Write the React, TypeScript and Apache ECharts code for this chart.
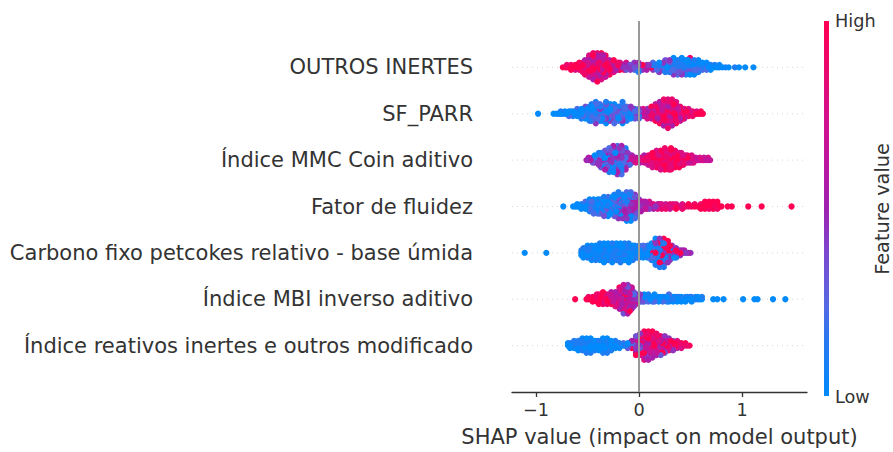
import React, { useEffect, useRef } from "react";
import * as echarts from "echarts";

// Features, top to bottom
const FEATURES = [
  "OUTROS INERTES",
  "SF_PARR",
  "Índice MMC Coin aditivo",
  "Fator de fluidez",
  "Carbono fixo petcokes relativo - base úmida",
  "Índice MBI inverso aditivo",
  "Índice reativos inertes e outros modificado",
];

const X_TICKS = [-1, 0, 1];
const X_MIN = -1.233;
const X_MAX = 1.63;

// Each entry: [SHAP value of the bin, feature values of the dots in it (0 = low ... 9 = high)]
const outrosInertes: [number, string][] = [
  [-0.74, "9"], [-0.715, "9"], [-0.7, "98"], [-0.675, "9"], [-0.66, "989"], [-0.64, "9"], [-0.62, "897"],
  [-0.6, "99"], [-0.58, "9789"], [-0.56, "97"], [-0.545, "89768"], [-0.525, "9786958"], [-0.505, "86979"],
  [-0.485, "9786958967"], [-0.465, "8697958"], [-0.445, "869795867958"], [-0.425, "597869587"],
  [-0.405, "8697598695789"], [-0.385, "97586958"], [-0.365, "896795869579"], [-0.345, "9586978695"],
  [-0.325, "6958795869"], [-0.305, "59687"], [-0.285, "8596759"], [-0.265, "5968"], [-0.245, "958679"],
  [-0.225, "695"], [-0.205, "5958"], [-0.185, "4596"], [-0.165, "59"], [-0.145, "458"], [-0.125, "5437"],
  [-0.105, "45"], [-0.085, "534"], [-0.065, "45"], [-0.045, "3524"], [-0.025, "45"], [-0.005, "34251"],
  [0.015, "53"], [0.035, "294"], [0.055, "4"], [0.075, "345"], [0.095, "24"], [0.115, "9"], [0.135, "3142"],
  [0.155, "41"], [0.175, "132"], [0.195, "21304"], [0.215, "10"], [0.235, "0124"], [0.255, "102413"],
  [0.275, "01"], [0.295, "102314"], [0.315, "0120"], [0.335, "10203140"], [0.355, "0121"],
  [0.375, "2010312"], [0.395, "10203"], [0.415, "01203140"], [0.435, "10"], [0.455, "0120301"],
  [0.475, "102130"], [0.495, "01203108"], [0.515, "102"], [0.535, "0120310"], [0.555, "10201"],
  [0.575, "012010"], [0.595, "10"], [0.615, "0120"], [0.635, "01"], [0.655, "1020"], [0.675, "0"],
  [0.695, "010"], [0.715, "1"], [0.735, "01"], [0.76, "0"], [0.78, "10"], [0.81, "0"], [0.84, "1"],
  [0.87, "0"], [0.93, "1"], [0.97, "0"], [1.03, "0"], [1.11, "0"],
];

const sfParr: [number, string][] = [
  [-0.98, "0"], [-0.83, "0"], [-0.8, "0"], [-0.78, "1"], [-0.76, "01"], [-0.74, "0"], [-0.72, "10"],
  [-0.7, "0"], [-0.68, "102"], [-0.66, "01"], [-0.64, "201"], [-0.62, "0"], [-0.6, "0102"], [-0.58, "10"],
  [-0.56, "01201"], [-0.54, "102"], [-0.52, "020103"], [-0.5, "1020"], [-0.48, "0130201"],
  [-0.46, "20103021"], [-0.44, "0120"], [-0.42, "1020310241"], [-0.4, "013020"], [-0.38, "20140102"],
  [-0.36, "1023012"], [-0.34, "0120310"], [-0.32, "2010420301"], [-0.3, "10320"], [-0.28, "01203140"],
  [-0.26, "203102"], [-0.24, "130201302"], [-0.22, "0312"], [-0.2, "2314012"], [-0.18, "10203"],
  [-0.16, "0120314201"], [-0.14, "3102"], [-0.12, "2013021"], [-0.1, "1320"], [-0.08, "031204"],
  [-0.06, "2314"], [-0.04, "32413"], [-0.02, "43"], [0.0, "43152"], [0.02, "54"], [0.04, "4657"],
  [0.06, "546"], [0.08, "65847"], [0.1, "769"], [0.12, "857969"], [0.14, "968"], [0.16, "78695896"],
  [0.18, "96785"], [0.2, "8697958695"], [0.22, "978695"], [0.24, "869795869758"], [0.26, "59786987"],
  [0.28, "9869759869578"], [0.3, "7968597968"], [0.32, "896795869758"], [0.34, "97869589"],
  [0.36, "8697958697"], [0.38, "978695"], [0.4, "8979586"], [0.42, "97869"], [0.44, "89796"],
  [0.46, "798"], [0.48, "9897"], [0.5, "97"], [0.52, "898"], [0.54, "9"], [0.56, "97"], [0.58, "9"],
  [0.6, "89"], [0.62, "9"],
];

const mmcCoin: [number, string][] = [
  [-0.51, "5"], [-0.49, "45"], [-0.47, "5"], [-0.45, "543"], [-0.43, "4250"], [-0.41, "52"],
  [-0.39, "524041"], [-0.37, "4052413"], [-0.35, "5041"], [-0.33, "405124035"], [-0.31, "5140253"],
  [-0.29, "40521403521"], [-0.27, "51402403"], [-0.25, "041524031405"], [-0.23, "405140251"],
  [-0.21, "0415203140524"], [-0.19, "4025140314"], [-0.17, "1405240314052"], [-0.15, "40251403"],
  [-0.13, "5240314051"], [-0.11, "452534"], [-0.09, "53642"], [-0.07, "5645"], [-0.05, "45"],
  [-0.03, "657"], [-0.01, "5"], [0.01, "675"], [0.03, "76"], [0.05, "8675"], [0.07, "786"],
  [0.09, "89786"], [0.11, "9879"], [0.13, "8979897"], [0.15, "978"], [0.17, "97898697"], [0.19, "89978"],
  [0.21, "978989897"], [0.23, "897898"], [0.25, "8978989798"], [0.27, "98997"], [0.29, "989798978"],
  [0.31, "8979897989"], [0.33, "9897"], [0.35, "89789798"], [0.37, "97898"], [0.39, "8978979"],
  [0.41, "978987"], [0.43, "87978"], [0.45, "7897"], [0.47, "8978"], [0.49, "786"], [0.51, "8797"],
  [0.53, "687"], [0.55, "76"], [0.57, "6"], [0.59, "67"], [0.61, "7"], [0.63, "76"], [0.65, "6"],
  [0.67, "67"], [0.69, "6"],
];

const fatorFluidez: [number, string][] = [
  [-0.735, "0"], [-0.64, "0"], [-0.62, "0"], [-0.6, "00"], [-0.58, "0"], [-0.56, "010"], [-0.54, "1"],
  [-0.52, "0102"], [-0.5, "010"], [-0.48, "102010"], [-0.46, "0102"], [-0.44, "2010102"], [-0.42, "01020"],
  [-0.4, "1020102"], [-0.38, "0102013"], [-0.36, "20101"], [-0.34, "102010213"], [-0.32, "01023"],
  [-0.3, "201031020"], [-0.28, "1020130"], [-0.26, "02103120"], [-0.24, "1023021031"], [-0.22, "2013041"],
  [-0.2, "310241032041"], [-0.18, "1403250"], [-0.16, "41305240314"], [-0.14, "31405240"],
  [-0.12, "4251340351420"], [-0.1, "4351425341"], [-0.08, "3452435401320"], [-0.06, "435425314"],
  [-0.04, "53445613042"], [-0.02, "4535463"], [0.0, "543564"], [0.02, "45465"], [0.04, "3645"],
  [0.06, "5465"], [0.08, "456"], [0.1, "6547"], [0.12, "56"], [0.14, "675"], [0.16, "4"], [0.18, "767"],
  [0.2, "56"], [0.22, "678"], [0.24, "5"], [0.26, "768"], [0.28, "6"], [0.3, "786"], [0.33, "87"],
  [0.36, "879"], [0.39, "7"], [0.42, "978"], [0.45, "8"], [0.48, "89"], [0.51, "8"], [0.54, "98"],
  [0.57, "9"], [0.6, "989"], [0.62, "9"], [0.64, "9899"], [0.66, "99"], [0.68, "9989"], [0.7, "9"],
  [0.72, "9899"], [0.74, "98"], [0.76, "9989"], [0.78, "9"], [0.8, "9"], [0.86, "9"], [0.9, "9"],
  [1.06, "9"], [1.19, "9"], [1.48, "9"],
];

const carbonoFixo: [number, string][] = [
  [-1.11, "0"], [-0.9, "0"], [-0.56, "010"], [-0.54, "01010"], [-0.52, "100"], [-0.5, "010010"],
  [-0.48, "10010"], [-0.46, "0100100"], [-0.44, "00100"], [-0.42, "1001001"], [-0.4, "01001"],
  [-0.38, "00101001"], [-0.36, "100100"], [-0.34, "010010100"], [-0.32, "00100"], [-0.3, "10010010"],
  [-0.28, "0101001"], [-0.26, "001010010"], [-0.24, "100100"], [-0.22, "01001010"], [-0.2, "0010100"],
  [-0.18, "100100101"], [-0.16, "010010"], [-0.14, "00101001"], [-0.12, "1001010"], [-0.1, "010010010"],
  [-0.08, "10010"], [-0.06, "0100101"], [-0.04, "100101"], [-0.02, "01001"], [0.0, "001010"],
  [0.02, "1002"], [0.04, "010102"], [0.06, "2010"], [0.08, "010201"], [0.1, "09102"], [0.12, "19029010"],
  [0.14, "091920"], [0.16, "910290140910"], [0.18, "09194019"], [0.2, "9104920193041"],
  [0.22, "019402910"], [0.24, "4910290145491"], [0.26, "0914051"], [0.28, "4910594049"],
  [0.3, "1940594"], [0.32, "049504"], [0.34, "95440"], [0.36, "49541"], [0.38, "545"], [0.4, "954"],
  [0.42, "54"], [0.44, "45"], [0.46, "4"], [0.48, "5"], [0.5, "4"],
];

const mbiInverso: [number, string][] = [
  [-0.62, "9"], [-0.51, "9"], [-0.49, "98"], [-0.47, "9"], [-0.45, "989"], [-0.43, "89"], [-0.41, "9898"],
  [-0.39, "98989"], [-0.37, "897"], [-0.35, "989789"], [-0.33, "8979"], [-0.31, "98978"], [-0.29, "789"],
  [-0.27, "869795"], [-0.25, "5968"], [-0.23, "6596857"], [-0.21, "56958"], [-0.19, "6595864759"],
  [-0.17, "4659586"], [-0.15, "5694658475963"], [-0.13, "6459658475"], [-0.11, "5469584753645"],
  [-0.09, "45364853469"], [-0.07, "6542635456"], [-0.05, "3542634"], [-0.03, "53246"], [-0.01, "4231"],
  [0.01, "2314"], [0.03, "213"], [0.05, "1020"], [0.07, "01"], [0.09, "1021"], [0.11, "01"], [0.13, "101"],
  [0.15, "0120"], [0.17, "1"], [0.19, "010"], [0.21, "10"], [0.23, "102"], [0.25, "01"], [0.27, "201"],
  [0.29, "0102"], [0.31, "1"], [0.33, "100"], [0.35, "01"], [0.37, "010"], [0.39, "10"], [0.41, "100"],
  [0.43, "0"], [0.45, "010"], [0.47, "10"], [0.49, "01"], [0.51, "010"], [0.53, "1"], [0.55, "01"],
  [0.57, "10"], [0.59, "0"], [0.61, "01"], [0.72, "0"], [0.76, "0"], [0.82, "0"], [1.01, "0"],
  [1.12, "0"], [1.15, "0"], [1.3, "0"], [1.42, "0"],
];

const reativosInertes: [number, string][] = [
  [-0.69, "00"], [-0.67, "010"], [-0.65, "1"], [-0.63, "0101"], [-0.61, "100"], [-0.59, "01010"],
  [-0.57, "1001"], [-0.55, "010010"], [-0.53, "1001"], [-0.51, "0101001"], [-0.49, "10010"],
  [-0.47, "0100101"], [-0.45, "1001"], [-0.43, "01001"], [-0.41, "0010"], [-0.39, "10010"], [-0.37, "010"],
  [-0.35, "0101001"], [-0.33, "10010"], [-0.31, "0100101"], [-0.29, "1001"], [-0.27, "01001"],
  [-0.25, "10"], [-0.23, "0101"], [-0.21, "01"], [-0.19, "010"], [-0.17, "1"], [-0.15, "02"], [-0.13, "1"],
  [-0.11, "203"], [-0.09, "31"], [-0.07, "4295"], [-0.05, "5394"], [-0.03, "394826539"], [-0.01, "49382"],
  [0.01, "4938265974"], [0.03, "8394759"], [0.05, "9583749682597"], [0.07, "59682739485"],
  [0.09, "8495796837495"], [0.11, "95847968"], [0.13, "485967394859"], [0.15, "97385968"],
  [0.17, "5948736958"], [0.19, "8597369"], [0.21, "968574983"], [0.23, "7958689"], [0.25, "86975834"],
  [0.27, "97869"], [0.29, "687984"], [0.31, "7989"], [0.33, "89734"], [0.35, "798"], [0.37, "8947"],
  [0.39, "98"], [0.41, "897"], [0.43, "9"], [0.45, "89"], [0.47, "8"], [0.49, "9"],
];

const ROWS = [outrosInertes, sfParr, mmcCoin, fatorFluidez, carbonoFixo, mbiInverso, reativosInertes];

const CMAP: [number, string][] = [
  [0, "#008afb"], [0.15, "#2a78f0"], [0.25, "#5868e2"], [0.38, "#7b48d0"],
  [0.5, "#9e22b0"], [0.62, "#bc16a0"], [0.75, "#d6108a"], [1, "#ff0052"],
];

function hexToRgb(h: string) {
  return [parseInt(h.slice(1, 3), 16), parseInt(h.slice(3, 5), 16), parseInt(h.slice(5, 7), 16)];
}
function cmap(t: number) {
  for (let i = 1; i < CMAP.length; i++) {
    if (t <= CMAP[i][0]) {
      const [t0, c0] = CMAP[i - 1];
      const [t1, c1] = CMAP[i];
      const f = (t - t0) / (t1 - t0);
      const a = hexToRgb(c0), b = hexToRgb(c1);
      const r = a.map((v, k) => Math.round(v + (b[k] - v) * f));
      return `rgb(${r[0]},${r[1]},${r[2]})`;
    }
  }
  return CMAP[CMAP.length - 1][1];
}

// SHAP-style beeswarm stacking inside each bin
function buildPoints() {
  const all: number[][] = [];
  const n = ROWS.length;
  ROWS.forEach((bins, i) => {
    const pos = n - 1 - i;
    const pts: { x: number; ly: number; c: number }[] = [];
    bins.forEach(([x, s]) => {
      for (let k = 0; k < s.length; k++) {
        const ly = Math.ceil(k / 2) * ((k % 2) * 2 - 1);
        pts.push({ x, ly, c: Number(s[k]) / 9 });
      }
    });
    const m = Math.max(...pts.map((p) => p.ly));
    const scale = (0.9 * 0.4) / (m + 1);
    pts.forEach((p) => all.push([p.x, pos + p.ly * scale, p.c]));
  });
  const N = all.length;
  const order = all.map((_, i) => i).sort((a, b) => ((a * 7919) % N) - ((b * 7919) % N));
  return order.map((i) => all[i]);
}

export default function App() {
  const ref = useRef<HTMLDivElement>(null);
  useEffect(() => {
    document.body.style.margin = "0";
    const chart = echarts.init(ref.current!, undefined, { renderer: "svg" });
    const n = FEATURES.length;
    const font = "DejaVu Sans";
    const points = buildPoints();
    const fmt = (v: number) => (v < 0 ? "\u2212" + Math.abs(v) : String(v));
    const gridLines = FEATURES.map((_, i) => ({
      type: "line",
      z: 1,
      silent: true,
      showSymbol: false,
      symbol: "none",
      lineStyle: { color: "#cccccc", width: 0.8, type: [1, 4] },
      data: [[X_MIN, i], [X_MAX, i]],
    }));
    chart.setOption({
      animation: false,
      textStyle: { fontFamily: font },
      grid: { left: 512, right: 86, top: 21, bottom: 56, containLabel: false },
      xAxis: {
        type: "value",
        min: X_MIN,
        max: X_MAX,
        name: "SHAP value (impact on model output)",
        nameLocation: "middle",
        nameGap: 34,
        nameTextStyle: { fontSize: 21, color: "#333333", fontFamily: font },
        axisLine: { show: true, onZero: false, lineStyle: { color: "#333333", width: 1.3 } },
        axisTick: { show: true, customValues: X_TICKS, length: 5, lineStyle: { color: "#333333", width: 1.3 } },
        axisLabel: { customValues: X_TICKS, formatter: fmt, fontSize: 17.7, color: "#333333", margin: 9, fontFamily: font },
        splitLine: { show: false },
      },
      yAxis: {
        type: "value",
        min: -1,
        max: n,
        interval: 1,
        axisLine: { show: false, onZero: false },
        axisTick: { show: false },
        splitLine: { show: false },
        axisLabel: {
          margin: 39,
          fontSize: 21,
          color: "#333333",
          fontFamily: font,
          formatter: (v: number) => (v >= 0 && v < n ? FEATURES[n - 1 - v] : ""),
        },
      },
      series: [
        ...gridLines,
        {
          type: "scatter",
          z: 2,
          silent: true,
          symbolSize: 6.2,
          data: points,
          itemStyle: { opacity: 1, color: (p: any) => cmap(p.data[2]) },
        },
        {
          type: "scatter",
          data: [],
          z: 5,
          silent: true,
          markLine: {
            z: 5,
            silent: true,
            symbol: ["none", "none"],
            label: { show: false },
            lineStyle: { color: "#999999", width: 2, type: "solid" },
            data: [{ xAxis: 0 }],
          },
        },
      ],
      graphic: [
        {
          type: "rect",
          shape: { x: 824, y: 21, width: 5, height: 375 },
          style: {
            fill: new echarts.graphic.LinearGradient(
              0, 0, 0, 1,
              CMAP.map(([t, c]) => ({ offset: 1 - t, color: c })).reverse()
            ),
          },
          silent: true,
        },
        {
          type: "text",
          x: 835,
          y: 21,
          style: { text: "High", fontSize: 17.7, fill: "#333333", fontFamily: font, textAlign: "left", textVerticalAlign: "middle" },
        },
        {
          type: "text",
          x: 835,
          y: 397,
          style: { text: "Low", fontSize: 17.7, fill: "#333333", fontFamily: font, textAlign: "left", textVerticalAlign: "middle" },
        },
        {
          type: "text",
          x: 882,
          y: 209,
          rotation: Math.PI / 2,
          style: { text: "Feature value", fontSize: 19.3, fill: "#333333", fontFamily: font, textAlign: "center", textVerticalAlign: "middle" },
        },
      ],
    });
    return () => chart.dispose();
  }, []);
  return (
    <div style={{ position: "absolute", left: 0, top: 0 }}>
      <div ref={ref} style={{ width: 893, height: 452 }} />
    </div>
  );
}
